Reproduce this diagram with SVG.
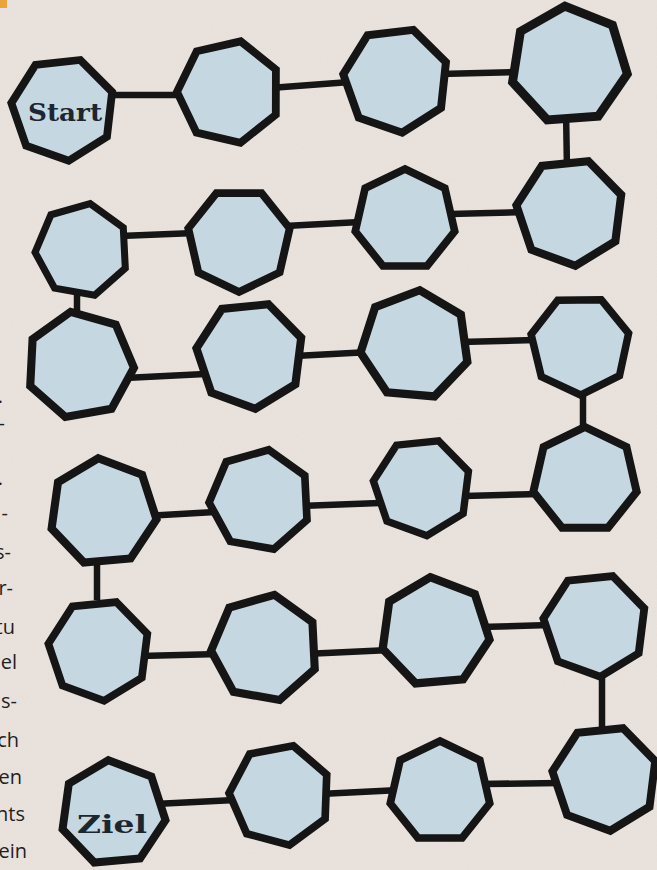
<svg xmlns="http://www.w3.org/2000/svg" xmlns:xlink="http://www.w3.org/1999/xlink" width="657" height="870" viewBox="0 0 657 870">
<style>
.hx{fill:#c5d7e0;stroke:#151515;stroke-width:7.5;stroke-linejoin:miter;vector-effect:non-scaling-stroke}
.ln{stroke:#151515;stroke-width:6.5;stroke-linecap:butt;fill:none}
.lbl{font-family:"DejaVu Serif","Liberation Serif",serif;font-weight:bold;font-size:24px;fill:#1c2630}
.side{font-family:"Open Sans","Noto Sans",sans-serif;font-size:20px;fill:#1f1f1f}
</style>
<defs>
<polygon id="h" points="0,-50 39.09,-31.17 48.75,11.13 21.69,45.05 -21.69,45.05 -48.75,11.13 -39.09,-31.17"/>
<filter id="paper" x="0" y="0" width="100%" height="100%">
<feTurbulence type="fractalNoise" baseFrequency="0.9" numOctaves="2" seed="3"/>
<feColorMatrix type="matrix" values="0 0 0 0 0.55  0 0 0 0 0.5  0 0 0 0 0.47  0 0 0 0.12 0"/>
</filter>
</defs>
<rect width="657" height="870" fill="#ebe4de"/>
<rect width="657" height="870" filter="url(#paper)"/>
<rect x="0" y="0" width="7" height="8" fill="#e9a43c"/>
<g id="sidetext" class="side" text-anchor="end">
<text x="3" y="403">.</text>
<text x="5" y="430">-</text>
<text x="3" y="485">.</text>
<text x="8" y="520">-</text>
<text x="11" y="559">s-</text>
<text x="13" y="595">r-</text>
<text x="15" y="634">tu</text>
<text x="17" y="669">el</text>
<text x="17" y="708">s-</text>
<text x="19" y="747">ch</text>
<text x="22" y="784">en</text>
<text x="25" y="821">nts</text>
<text x="27" y="858">ein</text>
</g>
<g id="connectors" class="ln">
<line x1="105" y1="95" x2="190" y2="95"/>
<line x1="270" y1="88" x2="350" y2="82"/>
<line x1="440" y1="74" x2="515" y2="72"/>
<line x1="566" y1="110" x2="567" y2="170"/>
<line x1="450" y1="214" x2="525" y2="212"/>
<line x1="285" y1="226" x2="360" y2="222"/>
<line x1="120" y1="236" x2="195" y2="233"/>
<line x1="77" y1="285" x2="77" y2="320"/>
<line x1="125" y1="378" x2="205" y2="374"/>
<line x1="295" y1="356" x2="370" y2="352"/>
<line x1="460" y1="342" x2="535" y2="340"/>
<line x1="583" y1="385" x2="583" y2="435"/>
<line x1="465" y1="496" x2="540" y2="494"/>
<line x1="300" y1="506" x2="380" y2="503"/>
<line x1="145" y1="516" x2="215" y2="512"/>
<line x1="97" y1="560" x2="97" y2="600"/>
<line x1="140" y1="656" x2="220" y2="654"/>
<line x1="305" y1="654" x2="390" y2="650"/>
<line x1="480" y1="627" x2="550" y2="625"/>
<line x1="602" y1="665" x2="602" y2="735"/>
<line x1="480" y1="784" x2="560" y2="783"/>
<line x1="320" y1="794" x2="400" y2="790"/>
<line x1="155" y1="804" x2="235" y2="800"/>
</g>
<g id="n1"><use xlink:href="#h" class="hx" transform="translate(63,109) rotate(-32) scale(1.04)"/><text class="lbl" x="28" y="121" textLength="74" lengthAdjust="spacingAndGlyphs">Start</text></g>
<g id="n2"><use xlink:href="#h" class="hx" transform="translate(229,92) rotate(13) scale(1.04)"/></g>
<g id="n3"><use xlink:href="#h" class="hx" transform="translate(396,80) rotate(19) scale(1.06)"/></g>
<g id="n4"><use xlink:href="#h" class="hx" transform="translate(569,65) rotate(-4) scale(1.18)"/></g>
<g id="n5"><use xlink:href="#h" class="hx" transform="translate(570,212) rotate(20) scale(1.08)"/></g>
<g id="n6"><use xlink:href="#h" class="hx" transform="translate(405,220) rotate(0) scale(1.02)"/></g>
<g id="n7"><use xlink:href="#h" class="hx" transform="translate(239,240) rotate(25.7) scale(1.04)"/></g>
<g id="n8"><use xlink:href="#h" class="hx" transform="translate(82,250) rotate(10) scale(0.94)"/></g>
<g id="n9"><use xlink:href="#h" class="hx" transform="translate(80,365) rotate(-10) scale(1.08)"/></g>
<g id="n10"><use xlink:href="#h" class="hx" transform="translate(250,355) rotate(20) scale(1.08)"/></g>
<g id="n11"><use xlink:href="#h" class="hx" transform="translate(415,345) rotate(5) scale(1.1)"/></g>
<g id="n12"><use xlink:href="#h" class="hx" transform="translate(580,345) rotate(25) scale(1)"/></g>
<g id="n13"><use xlink:href="#h" class="hx" transform="translate(585,480) rotate(0) scale(1.06)"/></g>
<g id="n14"><use xlink:href="#h" class="hx" transform="translate(422,487) rotate(20) scale(0.98)"/></g>
<g id="n15"><use xlink:href="#h" class="hx" transform="translate(260,500) rotate(10) scale(1.02)"/></g>
<g id="n16"><use xlink:href="#h" class="hx" transform="translate(103,512) rotate(-5) scale(1.08)"/></g>
<g id="n17"><use xlink:href="#h" class="hx" transform="translate(99,650) rotate(20) scale(1.02)"/></g>
<g id="n18"><use xlink:href="#h" class="hx" transform="translate(265,648) rotate(10) scale(1.08)"/></g>
<g id="n19"><use xlink:href="#h" class="hx" transform="translate(435,632) rotate(-5) scale(1.1)"/></g>
<g id="n20"><use xlink:href="#h" class="hx" transform="translate(595,625) rotate(20) scale(1.04)"/></g>
<g id="n21"><use xlink:href="#h" class="hx" transform="translate(605,778) rotate(20) scale(1.06)"/></g>
<g id="n22"><use xlink:href="#h" class="hx" transform="translate(440,792) rotate(0) scale(1.02)"/></g>
<g id="n23"><use xlink:href="#h" class="hx" transform="translate(280,795) rotate(15) scale(1.02)"/></g>
<g id="n24"><use xlink:href="#h" class="hx" transform="translate(113,813) rotate(-5) scale(1.06)"/><text class="lbl" x="77" y="833" textLength="70" lengthAdjust="spacingAndGlyphs">Ziel</text></g>
</svg>
